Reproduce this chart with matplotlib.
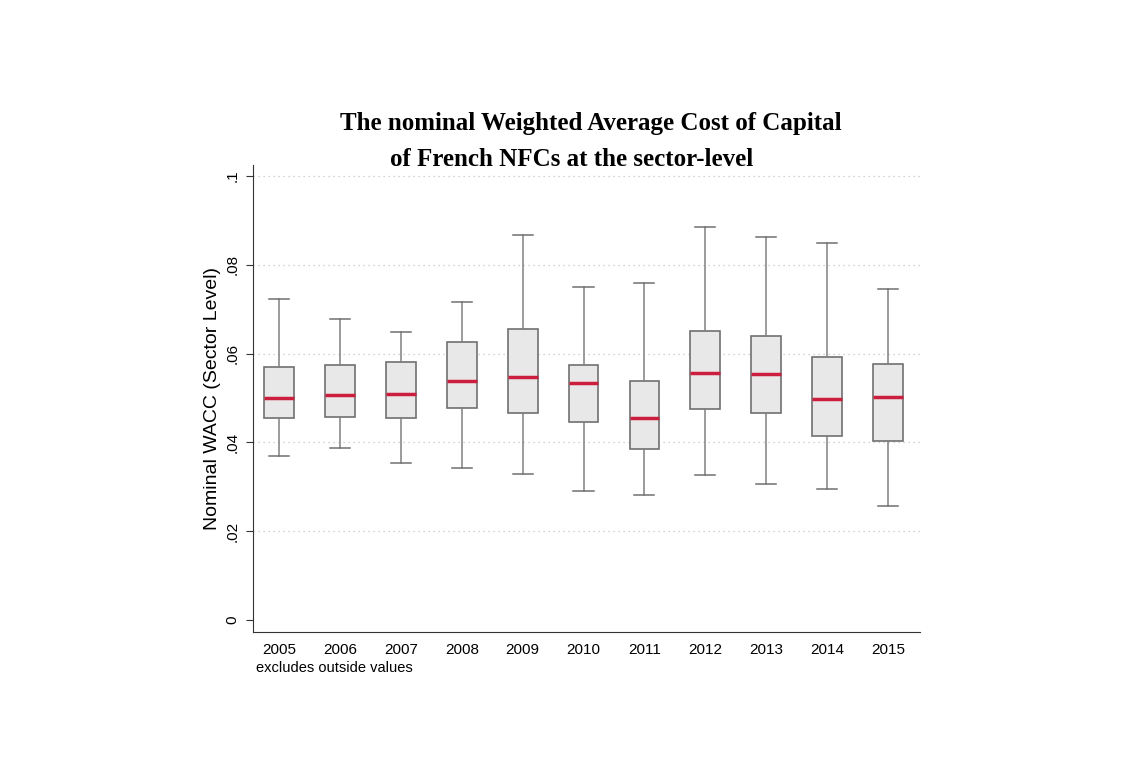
import matplotlib
matplotlib.use("Agg")
import matplotlib.pyplot as plt

years = ["2005", "2006", "2007", "2008", "2009", "2010", "2011", "2012", "2013", "2014", "2015"]
whisker_low = [0.0370, 0.0388, 0.0353, 0.0341, 0.0328, 0.0290, 0.0281, 0.0326, 0.0307, 0.0294, 0.0257]
q1 = [0.0455, 0.0458, 0.0455, 0.0477, 0.0465, 0.0445, 0.0386, 0.0475, 0.0466, 0.0414, 0.0404]
medians = [0.0499, 0.0507, 0.0509, 0.0538, 0.0546, 0.0534, 0.0454, 0.0556, 0.0554, 0.0498, 0.0502]
q3 = [0.0569, 0.0575, 0.0581, 0.0625, 0.0656, 0.0574, 0.0539, 0.0650, 0.0640, 0.0592, 0.0577]
whisker_high = [0.0722, 0.0677, 0.0649, 0.0715, 0.0868, 0.0750, 0.0760, 0.0886, 0.0863, 0.0849, 0.0746]

yticks = [0, 0.02, 0.04, 0.06, 0.08, 0.1]
ytick_labels = ["0", ".02", ".04", ".06", ".08", ".1"]

plt.rcParams['font.family'] = ['Liberation Sans', 'DejaVu Sans']

fig = plt.figure(figsize=(11.4, 7.8), dpi=100)
ax = fig.add_axes([0.222, 0.190, 0.585, 0.598])

stats = []
for i, y in enumerate(years):
    stats.append({
        "label": y,
        "whislo": whisker_low[i],
        "q1": q1[i],
        "med": medians[i],
        "q3": q3[i],
        "whishi": whisker_high[i],
        "fliers": [],
    })

ax.bxp(stats, positions=range(1, len(years) + 1), widths=0.49, patch_artist=True,
       showfliers=False,
       boxprops=dict(facecolor="#e8e8e8", edgecolor="#707070", linewidth=1.2),
       medianprops=dict(color="#cc1f3d", linewidth=2.5),
       whiskerprops=dict(color="#808080", linewidth=1.1),
       capprops=dict(color="#707070", linewidth=1.1),
       capwidths=0.33)

for t in yticks[1:]:
    ax.axhline(t, color="#c4c4c4", linestyle=(0, (1, 3)), linewidth=0.9, zorder=0)

ax.set_xlim(0.573, 11.525)
ax.set_ylim(-0.0027, 0.1024)
ax.set_yticks(yticks)
ax.set_yticklabels(ytick_labels, rotation=90, va="center", fontsize=11)
ax.set_xticks(range(1, len(years) + 1))
ax.set_xticklabels(years, fontsize=11)
ax.tick_params(axis="x", length=0, pad=8)
ax.tick_params(axis="y", length=5, color="#333333", pad=5)

ax.spines["top"].set_visible(False)
ax.spines["right"].set_visible(False)
ax.spines["left"].set_color("#333333")
ax.spines["bottom"].set_color("#333333")

ax.set_ylabel("Nominal WACC (Sector Level)", fontsize=14, labelpad=3)

fig.text(0.225, 0.143, "excludes outside values", fontsize=10.5, va="center")

fig.text(0.518, 0.842, "The nominal Weighted Average Cost of Capital",
         family=["Liberation Serif"], fontweight="bold", fontsize=18, ha="center", va="center")
fig.text(0.501, 0.795, "of French NFCs at the sector-level",
         family=["Liberation Serif"], fontweight="bold", fontsize=18, ha="center", va="center")

fig.savefig("out.png", dpi=100)
